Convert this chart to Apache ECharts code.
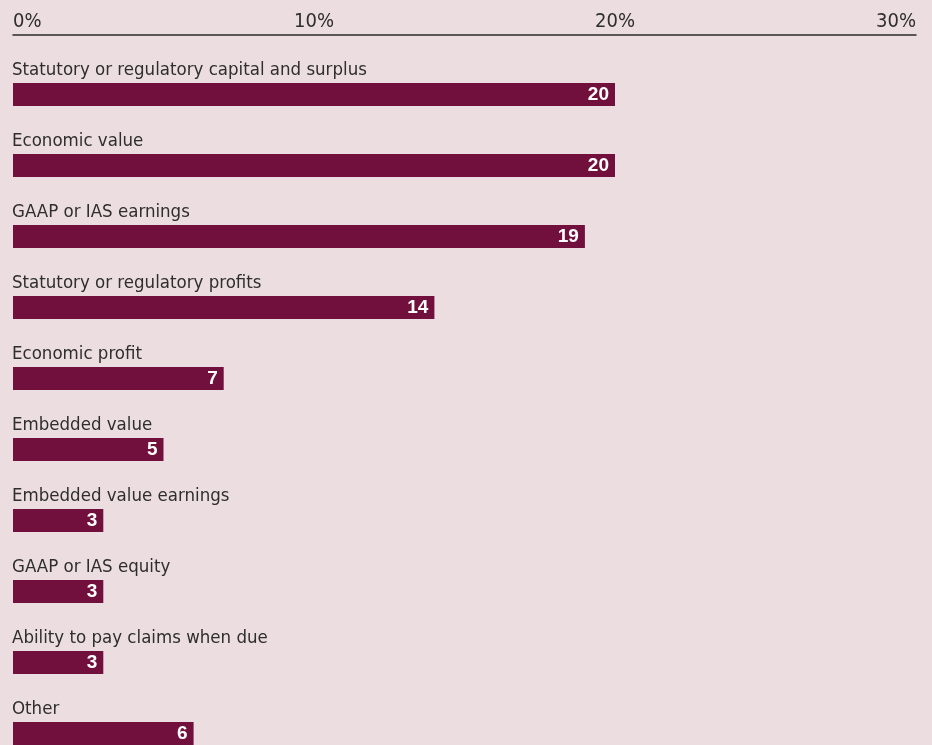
<!DOCTYPE html>
<html>
<head>
<meta charset="utf-8">
<style>
  html, body { margin: 0; padding: 0; background: #ecdde0; }
  #chart { width: 932px; height: 745px; }
</style>
<script src="https://cdn.jsdelivr.net/npm/echarts@6/dist/echarts.min.js"></script>
</head>
<body>
<div id="chart"></div>
<script>
// Measures used, share of respondents (%)
const categories = [
  'Statutory or regulatory capital and surplus',
  'Economic value',
  'GAAP or IAS earnings',
  'Statutory or regulatory profits',
  'Economic profit',
  'Embedded value',
  'Embedded value earnings',
  'GAAP or IAS equity',
  'Ability to pay claims when due',
  'Other'
];
const values = [20, 20, 19, 14, 7, 5, 3, 3, 3, 6];
const axisMax = 30;
const axisStep = 10;

const condensed = '"DejaVu Sans Condensed", "Liberation Sans Narrow", sans-serif';
const barShift = 24;   // each bar sits below its category caption

const chart = echarts.init(document.getElementById('chart'), null, { renderer: 'canvas' });
chart.setOption({
  backgroundColor: '#ecdde0',
  animation: false,
  grid: { left: 13, right: 16, top: 35, bottom: 0, containLabel: false },
  xAxis: {
    type: 'value',
    position: 'top',
    min: 0,
    max: axisMax,
    interval: axisStep,
    axisLine: { show: true, lineStyle: { color: '#2b2b2b', width: 1.5 } },
    axisTick: { show: false },
    splitLine: { show: false },
    axisLabel: {
      margin: 3,
      formatter: '{value}%',
      fontFamily: condensed,
      fontSize: 20,
      color: '#2e2e2e',
      alignMinLabel: 'left',
      alignMaxLabel: 'right'
    }
  },
  yAxis: {
    type: 'category',
    data: categories,
    inverse: true,
    axisLine: { show: false },
    axisTick: { show: false },
    splitLine: { show: false },
    axisLabel: {
      inside: true,
      margin: -1,
      align: 'left',
      verticalAlign: 'middle',
      fontFamily: condensed,
      fontSize: 18.5,
      color: '#2e2e2e'
    }
  },
  series: [{
    type: 'pictorialBar',
    data: values,
    symbol: 'rect',
    symbolRepeat: false,
    symbolSize: ['100%', 23],
    symbolOffset: [0, barShift],
    symbolPosition: 'start',
    itemStyle: { color: '#72103d' },
    label: {
      show: true,
      position: 'insideRight',
      distance: 6,
      offset: [0, barShift],
      color: '#ffffff',
      fontFamily: '"Liberation Sans", Arial, sans-serif',
      fontWeight: 'bold',
      fontSize: 19
    }
  }]
});
</script>
</body>
</html>
